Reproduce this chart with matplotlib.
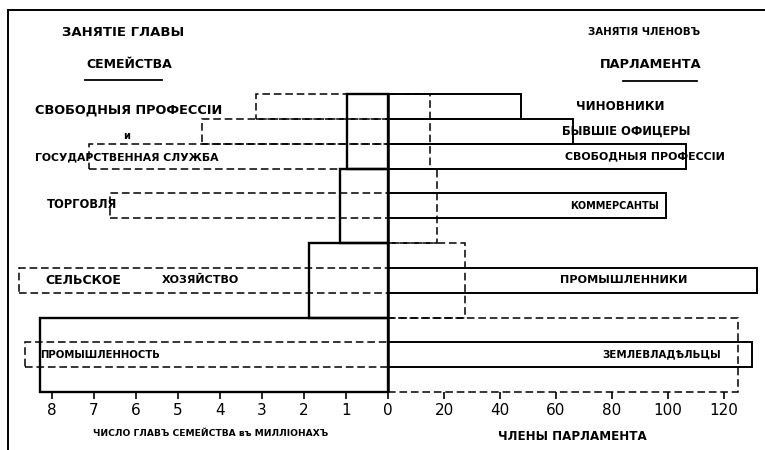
import matplotlib
matplotlib.use('Agg')
import matplotlib.pyplot as plt
from matplotlib.patches import Rectangle
from matplotlib.lines import Line2D

plt.rcParams['font.family'] = ['DejaVu Sans']

###########
## datos ##
###########

# занятие главы семейства (millones de familias) - escalera solida izquierda
grupos = ['СВОБОДНЫЯ ПРОФЕССІИ и ГОСУДАРСТВЕННАЯ СЛУЖБА', 'ТОРГОВЛЯ',
          'СЕЛЬСКОЕ ХОЗЯЙСТВО', 'ПРОМЫШЛЕННОСТЬ']
familias = [0.98, 1.14, 1.88, 8.29]
# miembros proporcionales a las familias - escalera punteada derecha
miembros_prop = [15, 17.5, 27.5, 125]

# занятия членов парламента - barras solidas derecha
ocupaciones = ['ЧИНОВНИКИ', 'БЫВШІЕ ОФИЦЕРЫ', 'СВОБОДНЫЯ ПРОФЕССІИ',
               'КОММЕРСАНТЫ', 'ПРОМЫШЛЕННИКИ', 'ЗЕМЛЕВЛАДѢЛЬЦЫ']
grupo_de = [0, 0, 0, 1, 2, 3]
miembros = [47.5, 66, 106.4, 99.3, 131.8, 130]
# familias equivalentes (millones) - cajas punteadas izquierda
familias_equiv = [3.14, 4.43, 7.12, 6.62, 8.79, 8.64]

ticks_izq = [8, 7, 6, 5, 4, 3, 2, 1]
ticks_der = [0, 20, 40, 60, 80, 100, 120]

esc = 15.0   # 1 millon de familias = 15 miembros en el eje

# fila de cada barra: grupos de 3 filas, de arriba hacia abajo
filas = []
for i in range(len(ocupaciones)):
    g = grupo_de[i]
    base = 9 - 3 * g
    n = grupo_de.count(g)
    k = grupo_de[:i].count(g)
    if n == 1:
        filas.append(base + 1)
    else:
        filas.append(base + 2 - k)

guion = (0, (5, 2.5))

fig = plt.figure(figsize=(7.65, 4.5), dpi=100)
ax = fig.add_axes([0, 58 / 450, 1, 298 / 450])
ax.set_xlim(-388 / 2.8, 377 / 2.8)
ax.set_ylim(0, 12)
for s in ax.spines.values():
    s.set_visible(False)

# escalera solida (familias) y punteada (miembros proporcionales)
for g in range(len(grupos)):
    y0 = 9 - 3 * g
    ax.add_patch(Rectangle((-esc * familias[g], y0), esc * familias[g], 3,
                           fill=False, ec='k', lw=1.7, zorder=4, clip_on=False))
    ax.add_patch(Rectangle((0, y0), miembros_prop[g], 3, fill=False, ec='k',
                           lw=1.1, ls=guion, zorder=2, clip_on=False))

# barras de miembros y cajas de familias equivalentes
for i in range(len(ocupaciones)):
    ax.add_patch(Rectangle((0, filas[i]), miembros[i], 1, fill=False, ec='k',
                           lw=1.4, zorder=3, clip_on=False))
    ax.add_patch(Rectangle((-esc * familias_equiv[i], filas[i]),
                           esc * familias_equiv[i], 1, fill=False, ec='k',
                           lw=1.1, ls=guion, zorder=2, clip_on=False))

ax.plot([0, 0], [0, 12], color='k', lw=1.8, zorder=5)

ax.set_xticks([-esc * t for t in ticks_izq] + ticks_der)
ax.set_xticklabels([str(t) for t in ticks_izq] + [str(t) for t in ticks_der])
ax.set_yticks([])
ax.tick_params(axis='x', direction='out', length=5, width=1.2, pad=3,
               labelsize=11)

negrita = dict(fontweight='bold', va='center', ha='left', color='k')

# titulos
ax.text(-116.4, 14.46, 'ЗАНЯТІЕ ГЛАВЫ', fontsize=9.5, **negrita)
ax.text(-107.9, 13.17, 'СЕМЕЙСТВА', fontsize=9, **negrita)
ax.plot([-108.2, -80.7], [12.57, 12.57], color='k', lw=1.3, clip_on=False)
ax.text(71.4, 14.5, 'ЗАНЯТІЯ ЧЛЕНОВЪ', fontsize=7.4, **negrita)
ax.text(75.7, 13.17, 'ПАРЛАМЕНТА', fontsize=9.3, **negrita)
ax.plot([83.9, 110.4], [12.52, 12.52], color='k', lw=1.3, clip_on=False)

# etiquetas izquierda
ax.text(-126.1, 11.36, 'СВОБОДНЫЯ ПРОФЕССІИ', fontsize=9.3, **negrita)
ax.text(-94.5, 10.31, 'и', fontsize=7, **negrita)
ax.text(-126.1, 9.46, 'ГОСУДАРСТВЕННАЯ СЛУЖБА', fontsize=7.8, **negrita)
ax.text(-121.8, 7.55, 'ТОРГОВЛЯ', fontsize=8.3, **negrita)
ax.text(-122.5, 4.5, 'СЕЛЬСКОЕ', fontsize=9, **negrita)
ax.text(-80.7, 4.5, 'ХОЗЯЙСТВО', fontsize=8, **negrita)
ax.text(-124.3, 1.49, 'ПРОМЫШЛЕННОСТЬ', fontsize=7.3, **negrita)

# etiquetas derecha
pos_x = [67.1, 62.1, 63.2, 65.0, 61.4, 76.4]
tam = [8.6, 8.3, 7.9, 7.0, 8.1, 7.4]
for i in range(len(ocupaciones)):
    ax.text(pos_x[i], filas[i] + 0.5, ocupaciones[i], fontsize=tam[i], **negrita)

# titulos de ejes
ax.text(-105.4, -1.69, 'ЧИСЛО ГЛАВЪ СЕМЕЙСТВА въ МИЛЛІОНАХЪ', fontsize=6.6,
        **negrita)
ax.text(39.3, -1.81, 'ЧЛЕНЫ ПАРЛАМЕНТА', fontsize=8.6, **negrita)

# marco
fig.add_artist(Line2D([8 / 765, 8 / 765], [0, 1 - 10 / 450],
                      transform=fig.transFigure, color='k', lw=1.4))
fig.add_artist(Line2D([8 / 765, 1], [1 - 10 / 450, 1 - 10 / 450],
                      transform=fig.transFigure, color='k', lw=1.4))

fig.savefig('out.png', dpi=100, facecolor='white')
